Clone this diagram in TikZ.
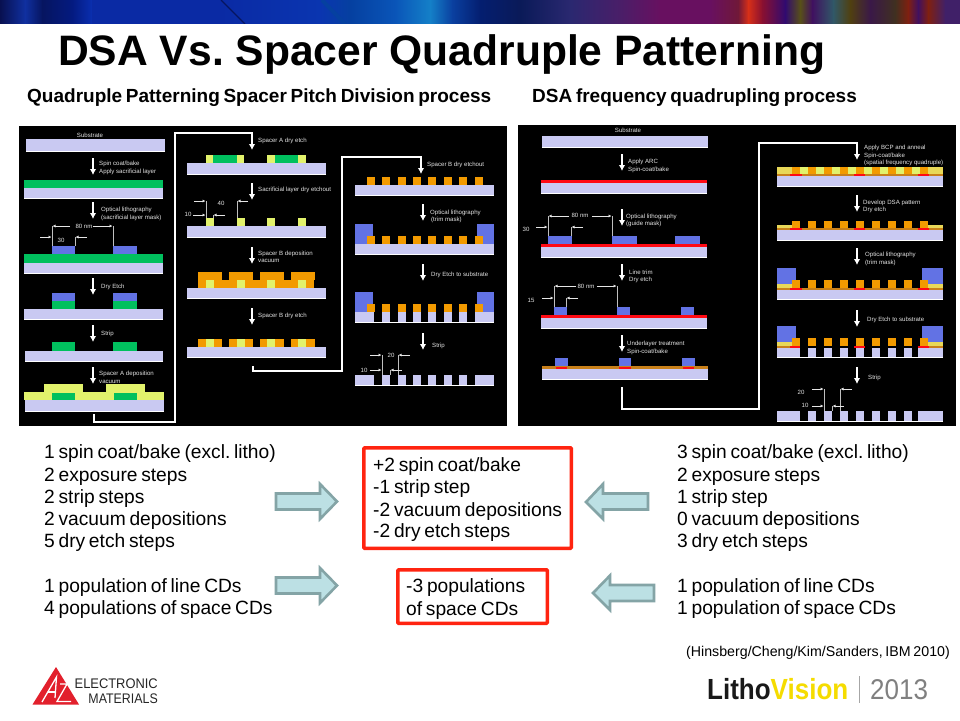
\documentclass[tikz,border=0pt]{standalone}
\usepackage{fontspec}
\setmainfont{Liberation Sans}[WordSpace=0.7]
\newfontfamily\titlefont{Liberation Sans}
\usetikzlibrary{arrows.meta}
\frenchspacing
\definecolor{lav}{HTML}{C9C9F2}
\definecolor{grn}{HTML}{00C05E}
\definecolor{mask}{HTML}{6272E4}
\definecolor{yel}{HTML}{E2F26C}
\definecolor{org}{HTML}{F29A00}
\definecolor{redl}{HTML}{FF0A14}
\definecolor{brn}{HTML}{C8801A}
\definecolor{ydot}{HTML}{E8D858}
\definecolor{boxred}{HTML}{FF2410}
\definecolor{arfill}{HTML}{BCE0E4}
\definecolor{arline}{HTML}{84A4A6}
\definecolor{lvy}{HTML}{F5DC00}
\definecolor{lvg}{HTML}{808080}
\definecolor{azred}{HTML}{E2202C}
\newcounter{nn}
\newcommand{\lab}[4]{\stepcounter{nn}\node[#1] (t\arabic{nn}) at (#2,#3) {#4};}
\newcommand{\rr}[5]{\fill[#1] (#2,#3) rectangle (#4,#5);}
% substrate: x1 y1 x2 y2 with white line under it
\newcommand{\subs}[4]{\fill[lav] (#1,#2) rectangle (#3,#4);\fill[white] (#1,#4) rectangle (#3,#4+1.4);}
\newcommand{\parr}[3]{\stepcounter{nn}\coordinate (a\arabic{nn}) at (#1,#2);\coordinate (b\arabic{nn}) at (#1,#3);\draw[procarrow] (a\arabic{nn}) -- (b\arabic{nn});}
\newcommand{\harr}[3]{\stepcounter{nn}\coordinate (a\arabic{nn}) at (#1,#3);\coordinate (b\arabic{nn}) at (#2,#3);\draw[dimarrow] (a\arabic{nn}) -- (b\arabic{nn});}
\newcommand{\tick}[3]{\draw[dimtick] (#1,#2) -- (#1,#3);}
\newcommand{\seg}[4]{\shade[left color=#3,right color=#4] (#1,0) rectangle (#2+0.4,24);}
\tikzset{
  small/.style={anchor=base west,inner sep=0pt,text=white!90!black,font=\titlefont\fontsize{6.1}{7}\selectfont},
  smallc/.style={small,anchor=base},
  body/.style={anchor=base west,inner sep=0pt,text=black,font=\fontsize{19.2}{21}\selectfont},
  sub/.style={anchor=base west,inner sep=0pt,text=black,font=\fontsize{19}{20}\bfseries\selectfont},
  procarrow/.style={white,line width=1.2pt,-{Latex[length=6pt,width=6.5pt]}},
  dimarrow/.style={white!90!black,line width=0.55pt,-{Latex[length=3pt,width=3pt]}},
  dimtick/.style={white!75!black,line width=0.55pt},
  wire/.style={white,line width=1.1pt},
  wirea/.style={wire,-{Latex[length=6pt,width=6.5pt]}},
  redbox/.style={draw=boxred,line width=3.6pt,fill=white,rounded corners=1pt},
  blockar/.style={fill=arfill,draw=arline,line width=2.6pt,miter limit=4},
  logotxt/.style={anchor=base east,inner sep=0pt,text=black!85},
}
\begin{document}
\begin{tikzpicture}[x=1pt,y=-1pt]
\useasboundingbox (0,0) rectangle (960,720);
\fill[white] (0,0) rectangle (960,720);
% ---------- banner ----------
\definecolor{b0}{HTML}{081050}\definecolor{b1}{HTML}{1030A0}\definecolor{b2}{HTML}{061560}\definecolor{b3}{HTML}{041A80}
\definecolor{b4}{HTML}{0A2FB0}\definecolor{b5}{HTML}{0A2AA4}\definecolor{b6}{HTML}{0A35B0}\definecolor{b7}{HTML}{0540A0}
\definecolor{b8}{HTML}{0A55B8}\definecolor{b9}{HTML}{1480C8}\definecolor{b10}{HTML}{0A40A0}\definecolor{b11}{HTML}{041E70}
\definecolor{b12}{HTML}{0A1A58}\definecolor{b13}{HTML}{2A2870}\definecolor{b14}{HTML}{4A1E68}\definecolor{b15}{HTML}{681060}
\definecolor{b16}{HTML}{701838}\definecolor{b17}{HTML}{D83018}\definecolor{b18}{HTML}{8A1030}\definecolor{b19}{HTML}{300A70}
\definecolor{b20}{HTML}{585018}\definecolor{b21}{HTML}{401060}\definecolor{b22}{HTML}{305868}\definecolor{b23}{HTML}{504010}
\definecolor{b24}{HTML}{3A1848}\definecolor{b25}{HTML}{403020}\definecolor{b26}{HTML}{802010}\definecolor{b27}{HTML}{402068}
\seg{0}{25}{b0}{b1}\seg{25}{42}{b1}{b2}\seg{42}{72}{b2}{b3}\seg{72}{92}{b3}{b4}\seg{92}{220}{b5}{b5}
\seg{220}{320}{b5}{b6}\seg{320}{350}{b6}{b7}\seg{350}{395}{b7}{b8}\seg{395}{430}{b8}{b9}\seg{430}{452}{b9}{b10}
\seg{452}{480}{b10}{b11}\seg{480}{520}{b11}{b12}\seg{520}{570}{b12}{b13}\seg{570}{620}{b13}{b14}\seg{620}{660}{b14}{b15}
\seg{660}{710}{b15}{b15}\seg{710}{738}{b15}{b16}\seg{738}{748}{b16}{b17}\seg{748}{762}{b17}{b18}\seg{762}{785}{b18}{b19}
\seg{785}{800}{b19}{b20}\seg{800}{812}{b20}{b21}\seg{812}{833}{b21}{b22}\seg{833}{850}{b22}{b23}\seg{850}{870}{b23}{b24}
\seg{870}{895}{b24}{b25}\seg{895}{908}{b25}{b26}\seg{908}{918}{b26}{b21}\seg{918}{928}{b21}{b26}\seg{928}{945}{b26}{b27}\seg{945}{960}{b27}{b27}
\draw[b2,line width=1.2pt] (221,0) -- (245,24);
\draw[b7,line width=4pt] (322,0) -- (345,24);
\fill[white] (0,24) rectangle (960,26);
% ---------- title ----------
\lab{anchor=base west,inner sep=0pt,text=black,font=\titlefont\fontsize{42.6}{45}\bfseries\selectfont}{58}{65}{DSA Vs. Spacer Quadruple Patterning}
\lab{sub}{27}{102}{Quadruple Patterning Spacer Pitch Division process}
\lab{sub}{532}{102}{DSA frequency quadrupling process}
% ---------- panels ----------
\rr{black}{19}{126}{507}{426}
\rr{black}{518}{125}{956}{426}
% === left panel, column 1 ===
\lab{smallc}{90}{137}{Substrate}
\subs{26}{139}{165}{151}
\parr{93}{158}{175}
\lab{small}{99}{165}{Spin coat/bake}
\lab{small}{99}{173}{Apply sacrificial layer}
\rr{grn}{24}{180}{163}{188}
\subs{24}{188}{163}{198}
\parr{93}{202}{219}
\lab{small}{101}{211}{Optical lithography}
\lab{small}{101}{219}{(sacrificial layer mask)}
\rr{mask}{52}{246}{75}{254}
\rr{mask}{113}{246}{137}{254}
\rr{grn}{24}{254}{163}{263}
\subs{24}{263}{163}{273}
\tick{52}{226}{246}\tick{113}{226}{246}\tick{75}{237}{246}
\lab{smallc}{84}{228}{80 nm}
\harr{70}{52.5}{226}\harr{93}{112.5}{226}
\lab{smallc}{61}{242}{30}
\harr{40}{51.5}{237}\harr{87}{75.5}{237}
\parr{93}{278}{295}
\lab{small}{101}{288}{Dry Etch}
\rr{mask}{52}{293}{75}{301}\rr{mask}{113}{293}{137}{301}
\rr{grn}{52}{301}{75}{309}\rr{grn}{113}{301}{137}{309}
\subs{24}{309}{163}{319}
\parr{93}{325}{342}
\lab{small}{101}{335}{Strip}
\rr{grn}{52}{342}{75}{351}\rr{grn}{113}{342}{137}{351}
\subs{25}{351}{163}{361}
\parr{93}{367}{384}
\lab{small}{99}{375}{Spacer A deposition}
\lab{small}{99}{383}{vacuum}
\rr{yel}{24}{392}{164}{400}
\rr{yel}{44}{384}{83}{392}\rr{yel}{106}{384}{145}{392}
\rr{grn}{52}{393}{75}{400}\rr{grn}{114}{393}{137}{400}
\subs{25}{400}{164}{411}
\coordinate (w1a) at (94,414);\coordinate (w1b) at (94,422);\coordinate (w1c) at (175,422);\coordinate (w1d) at (175,133);\coordinate (w1e) at (252,133);\coordinate (w1f) at (252,150);
\draw[wirea] (w1a) -- (w1b) -- (w1c) -- (w1d) -- (w1e) -- (w1f);
% === left panel, column 2 ===
\lab{small}{258}{142}{Spacer A dry etch}
\rr{yel}{206}{155}{213}{163}\rr{grn}{213}{155}{237}{163}\rr{yel}{237}{155}{244}{163}
\rr{yel}{267}{155}{275}{163}\rr{grn}{275}{155}{298}{163}\rr{yel}{298}{155}{306}{163}
\subs{187}{163}{326}{174}
\parr{252}{183}{200}
\lab{small}{258}{191}{Sacrificial layer dry etchout}
\tick{206}{201}{218}\tick{237}{201}{218}\tick{213}{215}{218}
\harr{194}{205.5}{201}\harr{248}{237.5}{201}
\lab{smallc}{221}{205}{40}
\lab{smallc}{188}{216}{10}
\harr{193}{205.5}{215}\harr{225}{213.5}{215}
\foreach \x in {206,237,267,298}{\rr{yel}{\x}{218}{\x+8}{226}}
\subs{187}{226}{326}{237}
\parr{252}{247}{264}
\lab{small}{258}{255}{Spacer B deposition}
\lab{small}{258}{262}{vacuum}
\rr{org}{198}{280}{314}{288}
\foreach \x in {198,229,260,291}{\rr{org}{\x}{272}{\x+23.5}{280}}
\foreach \x in {206,237,267,298}{\rr{yel}{\x}{280}{\x+8}{288}}
\subs{187}{288}{326}{298}
\parr{252}{308}{325}
\lab{small}{258}{317}{Spacer B dry etch}
\foreach \x in {198,229,260,291}{\rr{org}{\x}{339}{\x+23.5}{347}}
\foreach \x in {206,237,267,298}{\rr{yel}{\x}{339}{\x+8}{347}}
\subs{187}{347}{326}{357}
\coordinate (w2a) at (253,366);\coordinate (w2b) at (253,371);\coordinate (w2c) at (342,371);\coordinate (w2d) at (342,157);\coordinate (w2e) at (421,157);\coordinate (w2f) at (421,174);
\draw[wirea] (w2a) -- (w2b) -- (w2c) -- (w2d) -- (w2e) -- (w2f);
% === left panel, column 3 ===
\lab{small}{427}{166}{Spacer B dry etchout}
\foreach \i in {0,...,7}{\pgfmathsetmacro{\x}{367+15.36*\i}\rr{org}{\x}{177}{\x+8}{185}}
\subs{355}{185}{494}{195}
\parr{423}{204}{221}
\lab{small}{430}{214}{Optical lithography}
\lab{small}{431}{221}{(trim mask)}
\rr{mask}{355}{224}{373}{244}\rr{mask}{477}{224}{494}{244}
\foreach \i in {0,...,7}{\pgfmathsetmacro{\x}{367+15.36*\i}\rr{org}{\x}{236}{\x+8}{244}}
\subs{355}{244}{494}{254}
\parr{423}{264}{281}
\lab{small}{431}{276}{Dry Etch to substrate}
\rr{mask}{355}{292}{373}{312}\rr{mask}{477}{292}{494}{312}
\foreach \i in {0,...,7}{\pgfmathsetmacro{\x}{367+15.36*\i}\rr{org}{\x}{304}{\x+8}{312}}
\rr{lav}{355}{312}{374}{322}\rr{lav}{475}{312}{494}{322}
\foreach \i in {1,...,6}{\pgfmathsetmacro{\x}{367+15.36*\i}\rr{lav}{\x}{312}{\x+8}{322}}
\rr{white}{355}{322}{494}{323.2}
\parr{423}{333}{350}
\lab{small}{432}{347}{Strip}
\rr{lav}{355}{375}{374}{385}\rr{lav}{475}{375}{494}{385}
\foreach \i in {1,...,6}{\pgfmathsetmacro{\x}{367+15.36*\i}\rr{lav}{\x}{375}{\x+8}{385}}
\rr{white}{355}{385}{494}{386.2}
\tick{382}{355}{375}\tick{398}{355}{375}\tick{390}{370}{375}
\lab{smallc}{391}{357}{20}
\lab{smallc}{364}{372}{10}
\harr{370}{381.5}{355}\harr{410}{398.5}{355}
\harr{370}{381.5}{370}\harr{402}{390.5}{370}
% === right panel, column 1 ===
\lab{smallc}{628}{132}{Substrate}
\subs{542}{136}{708}{147}
\parr{622}{154}{171}
\lab{small}{628}{163}{Apply ARC}
\lab{small}{628}{171}{Spin-coat/bake}
\rr{redl}{541}{180}{707}{183}
\subs{541}{183}{707}{193}
\parr{622}{209}{226}
\lab{small}{626}{218}{Optical lithography}
\lab{small}{626}{225}{(guide mask)}
\tick{548}{216}{236}\tick{612}{216}{236}\tick{571}{227}{236}
\lab{smallc}{580}{217}{80 nm}
\harr{569}{548.5}{216}\harr{592}{611.5}{216}
\lab{smallc}{526}{231}{30}
\harr{536}{547.5}{227}\harr{583}{571.5}{227}
\rr{mask}{548}{236}{572}{244}\rr{mask}{612}{236}{637}{244}\rr{mask}{675}{236}{700}{244}
\rr{redl}{541}{244}{707}{247}
\subs{541}{247}{707}{257}
\parr{622}{264}{281}
\lab{small}{629}{274}{Line trim}
\lab{small}{629}{281}{Dry etch}
\tick{554}{286}{307}\tick{617}{286}{307}\tick{566}{298}{307}
\lab{smallc}{586}{288}{80 nm}
\harr{576}{554.5}{286}\harr{597}{616.5}{286}
\lab{smallc}{531}{302}{15}
\harr{542}{553.5}{298}\harr{578}{566.5}{298}
\rr{mask}{554}{307}{567}{315}\rr{mask}{617}{307}{630}{315}\rr{mask}{681}{307}{694}{315}
\rr{redl}{541}{315}{707}{318}
\subs{541}{318}{707}{328}
\parr{622}{335}{352}
\lab{small}{627}{345}{Underlayer treatment}
\lab{small}{627}{353}{Spin-coat/bake}
\rr{mask}{555}{358}{568}{366}\rr{mask}{619}{358}{631}{366}\rr{mask}{682}{358}{695}{366}
\rr{brn}{542}{366}{708}{369}
\rr{redl}{556}{367}{567}{369}\rr{redl}{619}{367}{631}{369}\rr{redl}{683}{367}{694}{369}
\subs{542}{369}{708}{379}
\coordinate (w3a) at (622,387);\coordinate (w3b) at (622,409);\coordinate (w3c) at (759,409);\coordinate (w3d) at (759,143);\coordinate (w3e) at (857,143);\coordinate (w3f) at (857,160);
\draw[wirea] (w3a) -- (w3b) -- (w3c) -- (w3d) -- (w3e) -- (w3f);
% === right panel, column 2 ===
\lab{small}{864}{149}{Apply BCP and anneal}
\lab{small}{864}{157}{Spin-coat/bake}
\lab{small}{864}{164}{(spatial frequency quadruple)}
\rr{ydot}{777}{167}{943}{174}
\foreach \i in {0,...,8}{\pgfmathsetmacro{\x}{792+16*\i}\rr{org}{\x}{167}{\x+8}{174}}
\foreach \i in {0,...,7}{\pgfmathsetmacro{\x}{800+16*\i}\rr{yel}{\x}{167}{\x+8}{174}}
\rr{brn}{777}{174}{943}{176}
\rr{redl}{790}{174}{802}{176}\rr{redl}{854}{174}{865}{176}\rr{redl}{918}{174}{929}{176}
\subs{777}{176}{943}{186}
\parr{857}{195}{212}
\lab{small}{863}{204}{Develop DSA pattern}
\lab{small}{863}{211}{Dry etch}
\rr{ydot}{777}{225}{792}{228}\rr{ydot}{928}{225}{943}{228}
\foreach \i in {0,...,8}{\pgfmathsetmacro{\x}{792+16*\i}\rr{org}{\x}{221}{\x+8}{228}}
\rr{brn}{777}{228}{943}{230}
\rr{redl}{790}{228}{802}{230}\rr{redl}{854}{228}{865}{230}\rr{redl}{918}{228}{929}{230}
\subs{777}{230}{943}{240}
\parr{857}{248}{265}
\lab{small}{865}{256}{Optical lithography}
\lab{small}{865}{264}{(trim mask)}
\rr{mask}{777}{268}{796}{284}\rr{mask}{922}{268}{943}{284}
\rr{ydot}{777}{284}{792}{288}\rr{ydot}{928}{284}{943}{288}
\foreach \i in {0,...,8}{\pgfmathsetmacro{\x}{792+16*\i}\rr{org}{\x}{280}{\x+8}{288}}
\rr{brn}{777}{288}{943}{290}
\rr{redl}{790}{288}{802}{290}\rr{redl}{854}{288}{865}{290}\rr{redl}{918}{288}{929}{290}
\subs{777}{290}{943}{299}
\parr{857}{310}{327}
\lab{small}{867}{321}{Dry Etch to substrate}
\rr{mask}{777}{326}{796}{342}\rr{mask}{922}{326}{943}{342}
\rr{ydot}{777}{342}{792}{346}\rr{ydot}{928}{342}{943}{346}
\foreach \i in {0,...,8}{\pgfmathsetmacro{\x}{792+16*\i}\rr{org}{\x}{338}{\x+8}{346}}
\rr{brn}{777}{346}{800}{348}\rr{brn}{918}{346}{943}{348}
\rr{redl}{790}{346}{800}{348}\rr{redl}{854}{346}{865}{348}\rr{redl}{918}{346}{929}{348}
\rr{lav}{777}{348}{800}{357}\rr{lav}{918}{348}{943}{357}
\foreach \i in {0,...,6}{\pgfmathsetmacro{\x}{808+16*\i}\rr{lav}{\x}{348}{\x+8}{357}}
\rr{white}{777}{357}{943}{358.2}
\parr{857}{367}{384}
\lab{small}{868}{379}{Strip}
\rr{lav}{777}{411}{800}{421}\rr{lav}{918}{411}{943}{421}
\foreach \i in {0,...,6}{\pgfmathsetmacro{\x}{808+16*\i}\rr{lav}{\x}{411}{\x+8}{421}}
\rr{white}{777}{421}{943}{422.2}
\tick{824}{389}{411}\tick{840}{389}{411}\tick{832}{406}{411}
\lab{smallc}{801}{394}{20}
\lab{smallc}{805}{407}{10}
\harr{812}{823.5}{389}\harr{852}{840.5}{389}
\harr{812}{823.5}{406}\harr{844}{832.5}{406}
% ---------- summary text ----------
\lab{body}{44}{458}{1 spin coat/bake (excl. litho)}
\lab{body}{44}{481}{2 exposure steps}
\lab{body}{44}{503}{2 strip steps}
\lab{body}{44}{525}{2 vacuum depositions}
\lab{body}{44}{547}{5 dry etch steps}
\lab{body}{44}{592}{1 population of line CDs}
\lab{body}{44}{614}{4 populations of space CDs}
\lab{body}{677}{458}{3 spin coat/bake (excl. litho)}
\lab{body}{677}{481}{2 exposure steps}
\lab{body}{677}{503}{1 strip step}
\lab{body}{677}{525}{0 vacuum depositions}
\lab{body}{677}{547}{3 dry etch steps}
\lab{body}{677}{592}{1 population of line CDs}
\lab{body}{677}{614}{1 population of space CDs}
% ---------- red boxes ----------
\node[redbox,anchor=north west,inner sep=0pt] (box1) at (362,446) {\rule{0pt}{100.5pt}\rule{207.5pt}{0pt}};
\lab{body}{373}{471}{+2 spin coat/bake}
\lab{body}{373}{493}{-1 strip step}
\lab{body}{373}{516}{-2 vacuum depositions}
\lab{body}{373}{537}{-2 dry etch steps}
\node[redbox,anchor=north west,inner sep=0pt] (box2) at (396,568) {\rule{0pt}{53.5pt}\rule{149.5pt}{0pt}};
\lab{body}{406}{592}{-3 populations}
\lab{body}{406}{615}{of space CDs}
% ---------- block arrows ----------
\draw[blockar] (276,493.5) -- (320,493.5) -- (320,484) -- (337,501.5) -- (320,519) -- (320,509.5) -- (276,509.5) -- cycle;
\draw[blockar] (276,577.5) -- (320,577.5) -- (320,568) -- (337,585.5) -- (320,603) -- (320,593.5) -- (276,593.5) -- cycle;
\draw[blockar] (648,493.5) -- (603,493.5) -- (603,484) -- (586,502) -- (603,519) -- (603,509.5) -- (648,509.5) -- cycle;
\draw[blockar] (654,585) -- (610,585) -- (610,575.5) -- (593,593) -- (610,610) -- (610,601) -- (654,601) -- cycle;
% ---------- footer ----------
\lab{anchor=base west,inner sep=0pt,font=\fontsize{14.2}{15}\selectfont}{686}{656}{(Hinsberg/Cheng/Kim/Sanders, IBM 2010)}
\fill[azred] (56,667) -- (79,704.5) -- (32.5,704.5) -- cycle;
\draw[white,line width=1.3pt] (42,702) -- (56.5,677) -- (55,698);
\draw[white,line width=1.1pt] (48,692) -- (55.5,692);
\draw[white,line width=1.3pt] (60,684) -- (67,684) -- (57,701.5) -- (71,701.5);
\lab{logotxt,font=\fontsize{12.9}{16}\selectfont}{158}{688}{\scalebox{1}[1.08]{ELECTRONIC}}
\lab{logotxt,font=\fontsize{12.4}{16}\selectfont}{158}{703}{\scalebox{1}[1.12]{MATERIALS}}
\lab{anchor=base west,inner sep=0pt,text=black!90,font=\fontsize{26}{28}\bfseries\selectfont}{707}{699.5}{\scalebox{1}[1.12]{Litho\textcolor{lvy}{Vision}}}
\fill[black!35] (858.7,676) rectangle (859.5,703);
\lab{anchor=base west,inner sep=0pt,text=lvg,font=\fontsize{26}{28}\selectfont}{870}{699.5}{\scalebox{1}[1.1]{2013}}
\end{tikzpicture}
\end{document}
